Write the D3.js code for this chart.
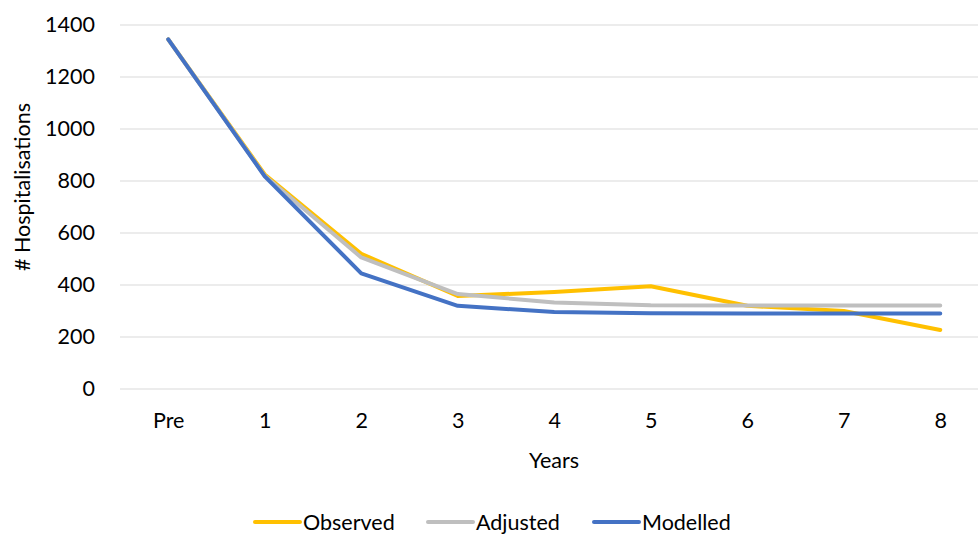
<!DOCTYPE html>
<html><head><meta charset="utf-8">
<script src="https://cdn.jsdelivr.net/npm/d3@7"></script>
<style>body{margin:0;background:#fff;} text{font-family:Lato,"Open Sans",sans-serif;fill:#000;}</style>
</head><body>
<svg id="c" width="978" height="534"></svg>
<script>
const categories = ["Pre","1","2","3","4","5","6","7","8"];
const observed = [1345, 825, 520, 358, 373, 395, 320, 300, 227];
const adjusted = [1345, 820, 506, 365, 333, 322, 321, 321, 321];
const modelled = [1345, 818, 445, 320, 296, 291, 290, 290, 290];
const yTicks = [0,200,400,600,800,1000,1200,1400];
const seriesNames = ["Observed","Adjusted","Modelled"];
const colors = ["#FFC000","#BFBFBF","#4472C4"];

const svg = d3.select("#c");
const pLeft = 120, pRight = 988.5, pTop = 25, pBottom = 389;
const fs = "21.5px";
const x = d3.scalePoint().domain(categories).range([pLeft, pRight]).padding(0.5);
const y = d3.scaleLinear().domain([0,1400]).range([pBottom, pTop]);

// gridlines
svg.append("g").selectAll("line").data(yTicks).join("line")
  .attr("x1", pLeft).attr("x2", pRight)
  .attr("y1", d=>y(d)).attr("y2", d=>y(d))
  .attr("stroke", "#D9D9D9").attr("stroke-width", 1.2);

// y axis labels
const ya = svg.append("g").attr("transform", `translate(${pLeft},0)`)
  .call(d3.axisLeft(y).tickValues(yTicks).tickFormat(d3.format("d")).tickSize(0).tickPadding(25));
ya.select(".domain").remove();
ya.selectAll("text").style("font-size",fs).style("font-family","Lato,sans-serif").attr("fill","#000");

// x axis labels
const xa = svg.append("g").attr("transform", `translate(0,${pBottom})`)
  .call(d3.axisBottom(x).tickSize(0).tickPadding(24));
xa.select(".domain").remove();
xa.selectAll("text").style("font-size",fs).style("font-family","Lato,sans-serif").attr("fill","#000");

// titles
svg.append("text").attr("x", 554).attr("y", 468).attr("text-anchor","middle")
  .style("font-size",fs).text("Years");
svg.append("text").attr("transform","translate(30,187) rotate(-90)").attr("text-anchor","middle")
  .style("font-size",fs).text("# Hospitalisations");

// lines
const line = d3.line().x((d,i)=>x(categories[i])).y(d=>y(d));
[observed, adjusted, modelled].forEach((s,i)=>{
  svg.append("path").datum(s).attr("d", line)
    .attr("fill","none").attr("stroke", colors[i]).attr("stroke-width", 4)
    .attr("stroke-linejoin","round").attr("stroke-linecap","round");
});

// legend
const legX = [255, 428, 594];
seriesNames.forEach((n,i)=>{
  const g = svg.append("g");
  g.append("line").attr("x1", legX[i]).attr("x2", legX[i]+45).attr("y1", 522).attr("y2", 522)
    .attr("stroke", colors[i]).attr("stroke-width", 4).attr("stroke-linecap","round");
  g.append("text").attr("x", legX[i]+48).attr("y", 529.5).style("font-size",fs).text(n);
});
</script>
</body></html>
